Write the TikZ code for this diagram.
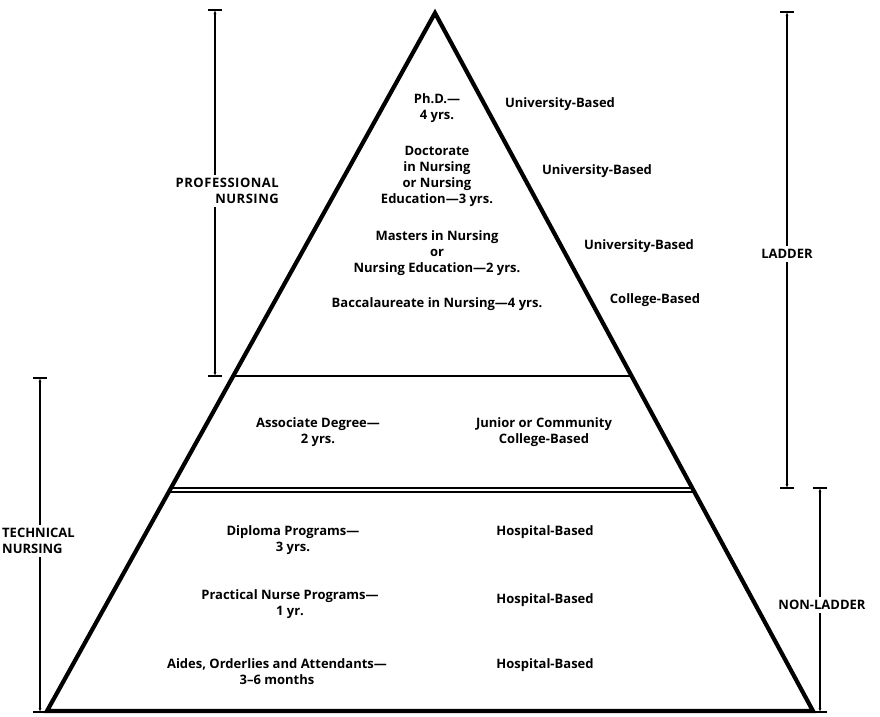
\documentclass[tikz,border=0pt]{standalone}
\usepackage{fontspec}
\setmainfont{Open Sans}
\usetikzlibrary{calc,arrows.meta}
\begin{document}
\begin{tikzpicture}[x=1pt,y=-1pt,
  lbl/.style={font=\bfseries\fontsize{13}{16}\selectfont,align=center,inner sep=0pt},
  side/.style={font=\bfseries\fontsize{13}{16}\selectfont,inner xsep=1pt,inner ysep=3pt,fill=white},
  dimline/.style={line width=1.3pt,{Latex[length=4pt,width=3pt]}-{Latex[length=4pt,width=3pt]}},
  tbar/.style={line width=1.5pt},
  triedge/.style={line width=4.2pt,line join=miter,line cap=butt},
  divider/.style={line width=2.8pt}]
\useasboundingbox (0,0) rectangle (880,716);
% triangle
\coordinate (apex) at (435,13);
\coordinate (bl) at (47,711);
\coordinate (br) at (813,711);
\draw[triedge] (apex) -- (br) -- (bl) -- cycle;
% dividers
\coordinate (d1l) at ($(apex)!0.5201!(bl)$);
\coordinate (d1r) at ($(apex)!0.5201!(br)$);
\draw[divider] (d1l) -- (d1r);
\coordinate (d2l) at ($(apex)!0.6805!(bl)$);
\coordinate (d2r) at ($(apex)!0.6805!(br)$);
\coordinate (d3l) at ($(apex)!0.6862!(bl)$);
\coordinate (d3r) at ($(apex)!0.6862!(br)$);
\draw[line width=1.8pt] (d2l) -- (d2r);
\draw[line width=1.8pt] (d3l) -- (d3r);
% dimension bars
\coordinate (pt) at (215,10);
\coordinate (pb) at (215,376);
\draw[dimline] (pt) -- (pb);
\draw[tbar] ($(pt)+(-7,0)$) -- ($(pt)+(7,0)$);
\draw[tbar] ($(pb)+(-7,0)$) -- ($(pb)+(7,0)$);
\coordinate (tt) at (40,378);
\coordinate (tb) at (40,712);
\draw[dimline] (tt) -- (tb);
\draw[tbar] ($(tt)+(-7,0)$) -- ($(tt)+(7,0)$);
\draw[tbar] ($(tb)+(-7,0)$) -- ($(tb)+(7,0)$);
\coordinate (lt) at (787,12);
\coordinate (lb) at (787,488);
\draw[dimline] (lt) -- (lb);
\draw[tbar] ($(lt)+(-7,0)$) -- ($(lt)+(7,0)$);
\draw[tbar] ($(lb)+(-7,0)$) -- ($(lb)+(7,0)$);
\coordinate (nt) at (820,488);
\coordinate (nb) at (820,712);
\draw[dimline] (nt) -- (nb);
\draw[tbar] ($(nt)+(-7,0)$) -- ($(nt)+(7,0)$);
\draw[tbar] ($(nb)+(-7,0)$) -- ($(nb)+(7,0)$);
% side labels
\node[side,align=right,anchor=east] (prof) at (280,191) {\addfontfeature{LetterSpace=4}PROFESSIONAL\\\addfontfeature{LetterSpace=4}NURSING};
\node[side,align=left,anchor=west] (tech) at (1,541) {TECHNICAL\\NURSING};
\node[side] (ladder) at (787,254) {LADDER};
\node[side] (nonladder) at (822,605) {NON-LADDER};
% content
\node[lbl] (phd) at (437,108) {Ph.D.—\\4 yrs.};
\node[lbl] (doc) at (437,176) {Doctorate\\in Nursing\\or Nursing\\Education—3 yrs.};
\node[lbl] (mas) at (437,253) {Masters in Nursing\\or\\Nursing Education—2 yrs.};
\node[lbl] (bac) at (437,304) {Baccalaureate in Nursing—4 yrs.};
\node[lbl] (u1) at (560,104) {University-Based};
\node[lbl] (u2) at (597,171) {University-Based};
\node[lbl] (u3) at (639,246) {University-Based};
\node[lbl] (cb) at (655,300) {College-Based};
\node[lbl] (assoc) at (318,432) {Associate Degree—\\2 yrs.};
\node[lbl] (jr) at (544,432) {Junior or Community\\College-Based};
\node[lbl] (dip) at (293,540) {Diploma Programs—\\3 yrs.};
\node[lbl] (h1) at (545,532) {Hospital-Based};
\node[lbl] (prac) at (290,604) {Practical Nurse Programs—\\1 yr.};
\node[lbl] (h2) at (545,600) {Hospital-Based};
\node[lbl] (aides) at (277,672) {Aides, Orderlies and Attendants—\\3–6 months};
\node[lbl] (h3) at (545,665) {Hospital-Based};
\end{tikzpicture}
\end{document}
